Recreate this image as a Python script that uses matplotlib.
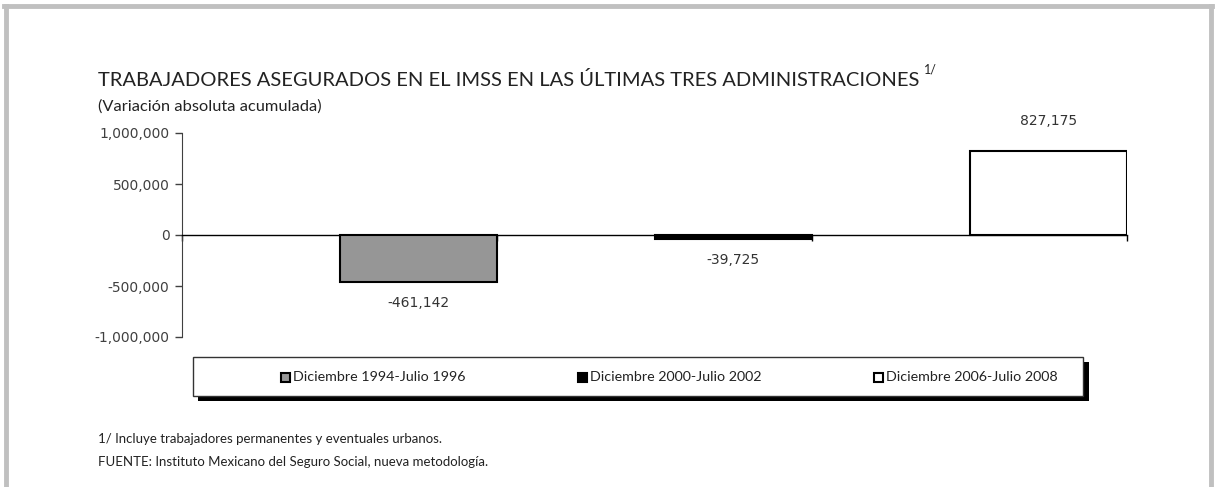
import matplotlib
matplotlib.use('Agg')
import matplotlib.pyplot as plt
from matplotlib.patches import Rectangle
from matplotlib.lines import Line2D
from matplotlib.ticker import FuncFormatter

# data
periodos = ['Diciembre 1994-Julio 1996', 'Diciembre 2000-Julio 2002', 'Diciembre 2006-Julio 2008']
variacion = [-461142, -39725, 827175]
colores = ['#969696', '#000000', '#ffffff']
yticks = [-1000000, -500000, 0, 500000, 1000000]

W, H = 1216, 487
fig = plt.figure(figsize=(W / 100, H / 100), dpi=100)
fig.patch.set_facecolor('white')

def fx(x):
    return x / W

def fy(y):
    return 1 - y / H

txt_font = 'Lato'
num_font = 'DejaVu Sans'

# gray frame around the chart
fig.add_artist(Line2D([fx(5.5), fx(5.5)], [fy(6), fy(500)], color='#c0c0c0', lw=3.5, transform=fig.transFigure))
fig.add_artist(Line2D([fx(4), fx(1212)], [fy(6), fy(6)], color='#c0c0c0', lw=3.5, transform=fig.transFigure))
fig.add_artist(Line2D([fx(1210.5), fx(1210.5)], [fy(6), fy(500)], color='#c0c0c0', lw=3.5, transform=fig.transFigure))

ax = fig.add_axes([fx(182), fy(337), fx(1127) - fx(182), fy(133) - fy(337)])
x = list(range(len(variacion)))
bars = ax.bar(x, variacion, width=0.5, color=colores, edgecolor='black', linewidth=1.5, zorder=3)
ax.set_xlim(-0.75, 2.25)
ax.set_ylim(-1000000, 1000000)
ax.set_yticks(yticks)
ax.yaxis.set_major_formatter(FuncFormatter(lambda v, p: f'{int(v):,}'))
ax.tick_params(axis='y', direction='out', length=5, width=1, color='#404040',
               labelsize=10, labelcolor='#404040', pad=4)
for lab in ax.get_yticklabels():
    lab.set_fontfamily(num_font)

for s in ['top', 'right']:
    ax.spines[s].set_visible(False)
ax.spines['left'].set_color('#404040')
ax.spines['bottom'].set_position(('data', 0))
ax.spines['bottom'].set_linewidth(1)
ax.set_xticks([-0.75, 0.25, 1.25, 2.25])
ax.set_xticklabels([])
ax.tick_params(axis='x', direction='out', length=4, width=1, color='black')

for b, v in zip(bars, variacion):
    cx = b.get_x() + b.get_width() / 2
    if v >= 0:
        ax.annotate(f'{v:,}', (cx, v), xytext=(0, 16), textcoords='offset points',
                    ha='center', va='bottom', fontsize=10, color='#333333', family=num_font)
    else:
        ax.annotate(f'{v:,}', (cx, v), xytext=(0, -10), textcoords='offset points',
                    ha='center', va='top', fontsize=10, color='#333333', family=num_font)

# titles
title = fig.text(fx(98), fy(80), 'TRABAJADORES ASEGURADOS EN EL IMSS EN LAS ÚLTIMAS TRES ADMINISTRACIONES',
                 family=txt_font, fontsize=14.5, color='#222222', va='center', ha='left')
ax.annotate('1/', xy=(1, 0.75), xycoords=title, xytext=(3, 0), textcoords='offset points',
            family=txt_font, fontsize=9, color='#222222', va='bottom', ha='left')
fig.text(fx(98), fy(107), '(Variación absoluta acumulada)', family=txt_font, fontsize=11.8,
         color='#222222', va='center', ha='left')

# legend box with shadow
fig.add_artist(Rectangle((fx(198), fy(401)), fx(1089) - fx(198), fy(362) - fy(401),
                         transform=fig.transFigure, facecolor='black', edgecolor='none'))
fig.add_artist(Rectangle((fx(193), fy(396)), fx(1083) - fx(193), fy(357) - fy(396),
                         transform=fig.transFigure, facecolor='white', edgecolor='#333333', lw=1))
leg_x = [280, 577, 873]
for lx, lab, c in zip(leg_x, periodos, colores):
    fig.add_artist(Rectangle((fx(lx + 1), fy(382)), fx(9) - fx(0), fy(373) - fy(382),
                             transform=fig.transFigure, facecolor=c, edgecolor='black', lw=1.5))
    fig.text(fx(lx + 13), fy(377), lab, family=txt_font, fontsize=10.3, color='#222222',
             va='center', ha='left')

# footnotes
fig.text(fx(98), fy(439), '1/ Incluye trabajadores permanentes y eventuales urbanos.',
         family=txt_font, fontsize=9.5, color='#222222', va='center', ha='left')
fig.text(fx(98), fy(462), 'FUENTE: Instituto Mexicano del Seguro Social, nueva metodología.',
         family=txt_font, fontsize=9.5, color='#222222', va='center', ha='left')

fig.savefig('out.png', dpi=100)
